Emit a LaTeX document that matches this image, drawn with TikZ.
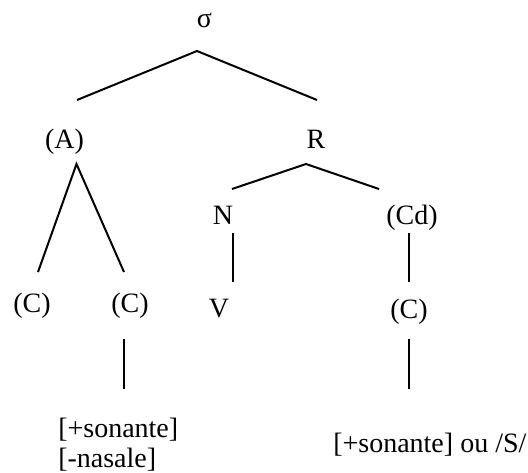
\documentclass[tikz,border=0pt]{standalone}
\usepackage{fontspec}
\setmainfont{Liberation Serif}
\usepackage{tikz}
\usetikzlibrary{positioning}
\tikzset{
  treeLabel/.style={
    font=\fontsize{21}{22.5}\selectfont,
    inner sep=0pt,
    anchor=base
  },
  featLabel/.style={
    font=\fontsize{21}{22.5}\selectfont,
    inner sep=0pt,
    align=left
  },
  branch/.style={line width=1.5pt, line cap=butt}
}

\begin{document}
\begin{tikzpicture}[x=0.75pt,y=-0.75pt]
  \useasboundingbox (0,0) rectangle (528,472);

  % syllabe
  \node[treeLabel] (sigma) at (204.5,27)  {σ};
  \node[treeLabel] (attaque) at (64.5,148) {(A)};
  \node[treeLabel] (rime)    at (316,148)  {R};
  \node[treeLabel] (noyau)   at (223,224)  {N};
  \node[treeLabel] (coda)    at (412,224)  {(Cd)};
  \node[treeLabel] (c1)      at (32,312)   {(C)};
  \node[treeLabel] (c2)      at (130,312)  {(C)};
  \node[treeLabel] (v)       at (219,317)  {V};
  \node[treeLabel] (c3)      at (409,318)  {(C)};

  \node[featLabel, anchor=north west] (featA) at (58,418)
    {[+sonante]\\{[-nasale]}};
  \node[featLabel, anchor=base west] (featCd) at (333,452)
    {[+sonante] ou /S/};

  % points d'attache
  \coordinate (sigma-b) at (197,51);
  \coordinate (attaque-t) at (77,100);
  \coordinate (rime-t) at (317,100);
  \coordinate (attaque-b) at (76.5,164);
  \coordinate (c1-t) at (38,272);
  \coordinate (c2-t) at (124,272);
  \coordinate (rime-b) at (306,164);
  \coordinate (noyau-t) at (232,189);
  \coordinate (coda-t) at (379,189);
  \coordinate (noyau-b) at (233,233);
  \coordinate (v-t) at (233,282);
  \coordinate (coda-b) at (409,233);
  \coordinate (c3-t) at (409,282);
  \coordinate (c2-b) at (124,339);
  \coordinate (featA-t) at (124,389);
  \coordinate (c3-b) at (409,339);
  \coordinate (featCd-t) at (409,389);

  \draw[branch] (attaque-t) -- (sigma-b) -- (rime-t);
  \draw[branch] (c1-t) -- (attaque-b) -- (c2-t);
  \draw[branch] (noyau-t) -- (rime-b) -- (coda-t);
  \draw[branch] (noyau-b) -- (v-t);
  \draw[branch] (coda-b) -- (c3-t);
  \draw[branch] (c2-b) -- (featA-t);
  \draw[branch] (c3-b) -- (featCd-t);
\end{tikzpicture}
\end{document}
